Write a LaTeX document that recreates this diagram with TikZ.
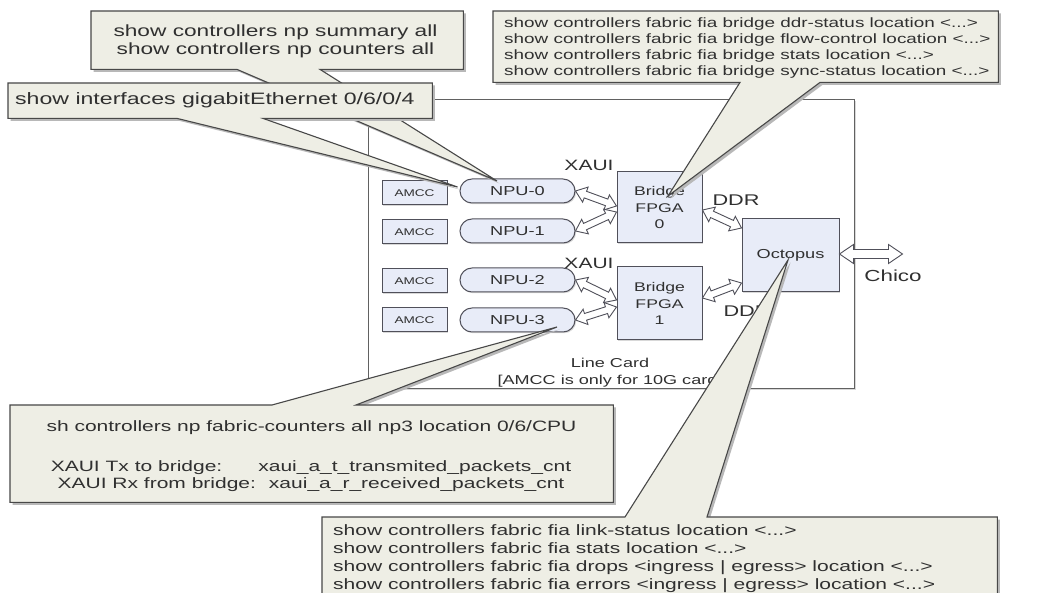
\documentclass[tikz,border=0pt]{standalone}
\usepackage{fontspec}
\setmainfont{Liberation Sans}[FakeStretch=1.4]
\usetikzlibrary{calc,shadows}

\definecolor{calloutfill}{RGB}{238,238,229}
\definecolor{calloutline}{RGB}{72,72,72}
\definecolor{unitfill}{RGB}{232,236,248}
\definecolor{unitline}{RGB}{80,80,90}
\definecolor{ink}{RGB}{48,48,48}

\newcommand\fsz[2]{\fontsize{#1pt}{#2pt}\selectfont}

% double-headed hollow block arrow: head length, head half-width, shaft half-width, ends
\newcommand\fatarrowgen[5]{%
  \filldraw[fatline] (#4)
    -- ($(#4)!#1!(#5)!#2!90:(#5)$)
    -- ($(#4)!#1!(#5)!#3!90:(#5)$)
    -- ($(#5)!#1!(#4)!#3!-90:(#4)$)
    -- ($(#5)!#1!(#4)!#2!-90:(#4)$)
    -- (#5)
    -- ($(#5)!#1!(#4)!#2!90:(#4)$)
    -- ($(#5)!#1!(#4)!#3!90:(#4)$)
    -- ($(#4)!#1!(#5)!#3!-90:(#5)$)
    -- ($(#4)!#1!(#5)!#2!-90:(#5)$)
    -- cycle;}
\newcommand\fatarrow[2]{\fatarrowgen{10.5pt}{8pt}{3.5pt}{#1}{#2}}

% callout outline: box with a wedge on its bottom or top edge
\newcommand\calloutdown[4]{(#1.north west) -- (#1.north east) -- (#1.south east) -- (#4) -- (#3) -- (#2) -- (#1.south west) -- cycle}
\newcommand\calloutup[4]{(#1.north west) -- (#2) -- (#3) -- (#4) -- (#1.north east) -- (#1.south east) -- (#1.south west) -- cycle}

\tikzset{
  unitbox/.style={draw=unitline, fill=unitfill, line width=1pt, inner sep=0, text=ink,
    drop shadow={shadow xshift=1.2pt, shadow yshift=-1.2pt, opacity=0.3}},
  amcc/.style={unitbox, minimum width=65pt, minimum height=24pt, font=\fsz{9.7}{11}},
  npu/.style={unitbox, rounded corners=12pt, minimum width=115pt, minimum height=24pt, font=\fsz{13}{15}},
  chip/.style={unitbox, align=center, font=\fsz{12.6}{16.5}},
  tag/.style={inner sep=0, text=ink},
  calloutshape/.style={fill=calloutfill, draw=calloutline, line width=1.1pt, line join=miter},
  cshadow/.style={fill=black!28, transform canvas={shift={(2.5pt,-2.5pt)}}},
  cbox/.style={inner sep=0, anchor=north west},
  ctext/.style={inner sep=0, text=ink},
  fatline/.style={draw=unitline, fill=white, line width=0.9pt, line join=miter},
}

\begin{document}
\begin{tikzpicture}[x=1pt, y=-1pt]
\useasboundingbox (0,0) rectangle (1058,593);
\fill[white] (0,0) rectangle (1058,593);

% line card frame
\node[draw=black!62, line width=1.1pt, fill=white, inner sep=0, anchor=north west,
      minimum width=486pt, minimum height=289pt,
      drop shadow={shadow xshift=1.2pt, shadow yshift=-1.2pt, opacity=0.3}] (card) at (368,99) {};
\node[tag, align=center, font=\fsz{12.9}{17}] (cardcap) at (610,373) {Line Card\\{[}AMCC is only for 10G card{]}};

% AMCC units
\node[amcc] (amcc0) at (414.5,193) {AMCC};
\node[amcc] (amcc1) at (414.5,232) {AMCC};
\node[amcc] (amcc2) at (414.5,281) {AMCC};
\node[amcc] (amcc3) at (414.5,320) {AMCC};

% network processors
\node[npu] (npu0) at (517.5,191) {NPU-0};
\node[npu] (npu1) at (517.5,231) {NPU-1};
\node[npu] (npu2) at (517.5,280) {NPU-2};
\node[npu] (npu3) at (517.5,320) {NPU-3};

% bridges and fabric interface
\node[chip, minimum width=85pt, minimum height=71pt] (br0) at (659.5,207.5) {Bridge\\FPGA\\0};
\node[chip, minimum width=85pt, minimum height=73pt] (br1) at (659.5,303.5) {Bridge\\FPGA\\1};
\node[chip, minimum width=97pt, minimum height=73pt, font=\fsz{13}{15}] (oct) at (790.5,255.5) {Octopus};

% link labels
\node[tag, font=\fsz{15}{17}] (xaui0) at (589,165) {XAUI};
\node[tag, font=\fsz{15}{17}] (xaui1) at (589,263) {XAUI};
\node[tag, font=\fsz{15.5}{17}] (ddr0) at (736,200) {DDR};
\node[tag, font=\fsz{15.5}{17}] (ddr1) at (747,311) {DDR};
\node[tag, font=\fsz{16}{18}] (chico) at (893,276) {Chico};

% arrow end points on the boxes
\coordinate (br0in0) at ($(br0.west)+(0,-1.5)$);
\coordinate (br0in1) at ($(br0.west)+(0,4.5)$);
\coordinate (br1in2) at ($(br1.west)+(0,-3.5)$);
\coordinate (br1in3) at ($(br1.west)+(0,3.5)$);
\coordinate (br0out) at ($(br0.east)+(0,2.5)$);
\coordinate (br1out) at ($(br1.east)+(0,-5.5)$);
\coordinate (octin0) at ($(oct.west)+(0,-27.5)$);
\coordinate (octin1) at ($(oct.west)+(0,27.5)$);
\coordinate (octout) at ($(oct.east)+(0,-1.5)$);
\coordinate (chicoend) at ($(oct.east)+(63,-1.5)$);

\fatarrow{npu0.east}{br0in0}
\fatarrow{npu1.east}{br0in1}
\fatarrow{npu2.east}{br1in2}
\fatarrow{npu3.east}{br1in3}
\fatarrow{br0out}{octin0}
\fatarrow{br1out}{octin1}
\fatarrowgen{14pt}{9.5pt}{4.5pt}{octout}{chicoend}

% callout: NP summary / counters
\node[cbox, minimum width=372pt, minimum height=58pt] (npbox) at (91,11) {};
\coordinate (npb1) at ($(npbox.south west)+(146,0)$);
\coordinate (npb2) at ($(npbox.south west)+(229,0)$);
\coordinate (nptip) at ($(npu0.center)+(-20.5,-10)$);
\fill[cshadow] \calloutdown{npbox}{npb1}{nptip}{npb2};
\filldraw[calloutshape] \calloutdown{npbox}{npb1}{nptip}{npb2};
\node[ctext, align=center, font=\fsz{16.2}{18}] (nptext) at (275.5,41)
  {show controllers np summary all\\show controllers np counters all};

% callout: interface
\node[cbox, minimum width=424pt, minimum height=35pt] (gebox) at (8,83) {};
\coordinate (geb1) at ($(gebox.south west)+(169,0)$);
\coordinate (geb2) at ($(gebox.south west)+(255,0)$);
\coordinate (getip) at ($(npu0.west)+(-2,-4)$);
\fill[cshadow] \calloutdown{gebox}{geb1}{getip}{geb2};
\filldraw[calloutshape] \calloutdown{gebox}{geb1}{getip}{geb2};
\node[ctext, anchor=west, font=\fsz{16.5}{18}] (getext) at ($(gebox.west)+(7,0)$)
  {show interfaces gigabitEthernet 0/6/0/4};

% callout: bridge FPGA
\node[cbox, minimum width=505pt, minimum height=71pt] (brbox) at (493,11) {};
\coordinate (brb1) at ($(brbox.south west)+(247,0)$);
\coordinate (brb2) at ($(brbox.south west)+(327,0)$);
\coordinate (brtip) at ($(br0.center)+(8.5,-11.5)$);
\fill[cshadow] \calloutdown{brbox}{brb1}{brtip}{brb2};
\filldraw[calloutshape] \calloutdown{brbox}{brb1}{brtip}{brb2};
\node[ctext, anchor=north west, align=left, font=\fsz{13.5}{16}] (brtext) at (504,17.8)
  {show controllers fabric fia bridge ddr-status location <...>\\
   show controllers fabric fia bridge flow-control location <...>\\
   show controllers fabric fia bridge stats location <...>\\
   show controllers fabric fia bridge sync-status location <...>};

% callout: NP fabric counters
\node[cbox, minimum width=603pt, minimum height=97pt] (shbox) at (10,405) {};
\coordinate (shb1) at ($(shbox.north west)+(262,0)$);
\coordinate (shb2) at ($(shbox.north west)+(346,0)$);
\coordinate (shtip) at ($(npu3.center)+(39.5,7)$);
\fill[cshadow] \calloutup{shbox}{shb1}{shtip}{shb2};
\filldraw[calloutshape] \calloutup{shbox}{shb1}{shtip}{shb2};
\node[ctext, font=\fsz{15}{17}] (shtext) at (311.5,428)
  {sh controllers np fabric-counters all np3 location 0/6/CPU};
\node[ctext, align=center, font=\fsz{15}{17}] (xauitext) at (311,476.5)
  {XAUI Tx to bridge:\hspace*{36pt}xaui\_a\_t\_transmited\_packets\_cnt\\
   XAUI Rx from bridge:\hspace*{13pt}xaui\_a\_r\_received\_packets\_cnt};

% callout: fabric interface
\node[cbox, minimum width=675pt, minimum height=100pt] (fiabox) at (322,517) {};
\coordinate (fiab1) at ($(fiabox.north west)+(303,0)$);
\coordinate (fiab2) at ($(fiabox.north west)+(385,0)$);
\coordinate (fiatip) at ($(oct.center)+(-2.5,4.5)$);
\fill[cshadow] \calloutup{fiabox}{fiab1}{fiatip}{fiab2};
\filldraw[calloutshape] \calloutup{fiabox}{fiab1}{fiatip}{fiab2};
\node[ctext, anchor=north west, align=left, font=\fsz{15}{18}] (fiatext) at (333,524)
  {show controllers fabric fia link-status location <...>\\
   show controllers fabric fia stats location <...>\\
   show controllers fabric fia drops <ingress | egress> location <...>\\
   show controllers fabric fia errors <ingress | egress> location <...>};
\end{tikzpicture}
\end{document}
